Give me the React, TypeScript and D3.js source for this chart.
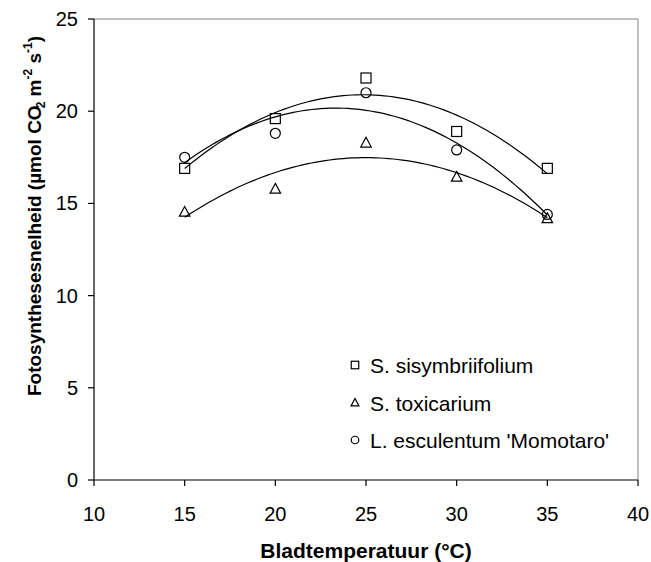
import React from 'react';
import * as d3 from 'd3';

const temperatures = [15, 20, 25, 30, 35];
const sisymbriifolium = [16.9, 19.6, 21.8, 18.9, 16.9];
const toxicarium = [14.55, 15.8, 18.3, 16.45, 14.2];
const esculentum = [17.5, 18.8, 21.0, 17.9, 14.4];
const xTicks = [10, 15, 20, 25, 30, 35, 40];
const yTicks = [0, 5, 10, 15, 20, 25];
const seriesNames = ['S. sisymbriifolium', 'S. toxicarium', "L. esculentum 'Momotaro'"];
const seriesShapes = ['square', 'triangle', 'circle'];

function quadFit(xs: number[], ys: number[]) {
  // least squares y = a + b x + c x^2
  const n = xs.length;
  let s0 = n, s1 = 0, s2 = 0, s3 = 0, s4 = 0, t0 = 0, t1 = 0, t2 = 0;
  for (let i = 0; i < n; i++) {
    const x = xs[i], y = ys[i];
    s1 += x; s2 += x * x; s3 += x * x * x; s4 += x * x * x * x;
    t0 += y; t1 += x * y; t2 += x * x * y;
  }
  const M = [
    [s0, s1, s2, t0],
    [s1, s2, s3, t1],
    [s2, s3, s4, t2],
  ];
  for (let i = 0; i < 3; i++) {
    let p = i;
    for (let r = i + 1; r < 3; r++) if (Math.abs(M[r][i]) > Math.abs(M[p][i])) p = r;
    [M[i], M[p]] = [M[p], M[i]];
    for (let r = 0; r < 3; r++) {
      if (r === i) continue;
      const f = M[r][i] / M[i][i];
      for (let c = i; c < 4; c++) M[r][c] -= f * M[i][c];
    }
  }
  const a = M[0][3] / M[0][0], b = M[1][3] / M[1][1], c = M[2][3] / M[2][2];
  return (x: number) => a + b * x + c * x * x;
}

const FONT = "'Liberation Sans', Arial, Helvetica, sans-serif";

function Marker({ shape, x, y, s }: { shape: string; x: number; y: number; s: number }) {
  const h = s / 2;
  if (shape === 'square') {
    return <rect x={x - h} y={y - h} width={s} height={s} fill="none" stroke="#000" strokeWidth={1.2} />;
  }
  if (shape === 'circle') {
    return <circle cx={x} cy={y} r={h} fill="none" stroke="#000" strokeWidth={1.2} />;
  }
  const p = `M${x},${y - h * 1.05}L${x + h * 1.05},${y + h * 0.9}L${x - h * 1.05},${y + h * 0.9}Z`;
  return <path d={p} fill="none" stroke="#000" strokeWidth={1.2} />;
}

export default function App() {
  const W = 651, H = 562;
  const x = d3.scaleLinear().domain([10, 40]).range([94, 638]);
  const y = d3.scaleLinear().domain([0, 25]).range([480, 19]);
  const series = [sisymbriifolium, toxicarium, esculentum];
  const line = d3.line<[number, number]>().x(d => x(d[0])).y(d => y(d[1])).curve(d3.curveLinear);
  const xs = d3.range(15, 35.0001, 0.25);

  return (
    <svg width={W} height={H} style={{ position: 'absolute', left: 0, top: 0, background: '#fff' }} fontFamily={FONT}>
      <rect x={0} y={0} width={W} height={H} fill="#fff" />
      {/* plot border top/right */}
      <line x1={x(10)} x2={x(40)} y1={y(25)} y2={y(25)} stroke="#808080" strokeWidth={1} />
      <line x1={x(40)} x2={x(40)} y1={y(25)} y2={y(0)} stroke="#808080" strokeWidth={1} />
      {/* axes */}
      <line x1={x(10)} x2={x(10)} y1={y(25)} y2={y(0)} stroke="#000" strokeWidth={1.2} />
      <line x1={x(10)} x2={x(40)} y1={y(0)} y2={y(0)} stroke="#000" strokeWidth={1.2} />
      {yTicks.map(t => (
        <g key={'y' + t}>
          <line x1={x(10) - 6} x2={x(10)} y1={y(t)} y2={y(t)} stroke="#000" strokeWidth={1.2} />
          <text x={78} y={y(t) + 7} textAnchor="end" fontSize={20}>{t}</text>
        </g>
      ))}
      {xTicks.map(t => (
        <g key={'x' + t}>
          <line x1={x(t)} x2={x(t)} y1={y(0)} y2={y(0) + 6} stroke="#000" strokeWidth={1.2} />
          <text x={x(t)} y={521} textAnchor="middle" fontSize={20}>{t}</text>
        </g>
      ))}
      <text x={366} y={558} textAnchor="middle" fontSize={21} fontWeight="bold">Bladtemperatuur (°C)</text>
      <text transform="translate(41,216) rotate(-90)" textAnchor="middle" fontSize={19} fontWeight="bold">
        Fotosynthesesnelheid (µmol CO<tspan fontSize={12} dx={-3} dy={4}>2</tspan><tspan dy={-4}> m</tspan>
        <tspan fontSize={12} dy={-9}>-2</tspan><tspan dy={9}> s</tspan>
        <tspan fontSize={12} dy={-9}>-1</tspan><tspan dy={9}>)</tspan>
      </text>
      {/* trend curves */}
      {series.map((vals, i) => {
        const f = quadFit(temperatures, vals);
        const pts = xs.map(v => [v, f(v)] as [number, number]);
        return <path key={'c' + i} d={line(pts) || ''} fill="none" stroke="#000" strokeWidth={1.2} />;
      })}
      {/* markers */}
      {series.map((vals, i) =>
        vals.map((v, j) => (
          <Marker key={'m' + i + '-' + j} shape={seriesShapes[i]} x={x(temperatures[j])} y={y(v)} s={10} />
        ))
      )}
      {/* legend */}
      {seriesNames.map((name, i) => (
        <g key={'l' + i}>
          <Marker shape={seriesShapes[i]} x={355} y={365 + i * 37.5} s={7.5} />
          <text x={370} y={373 + i * 37.5} fontSize={21}>{name}</text>
        </g>
      ))}
    </svg>
  );
}
